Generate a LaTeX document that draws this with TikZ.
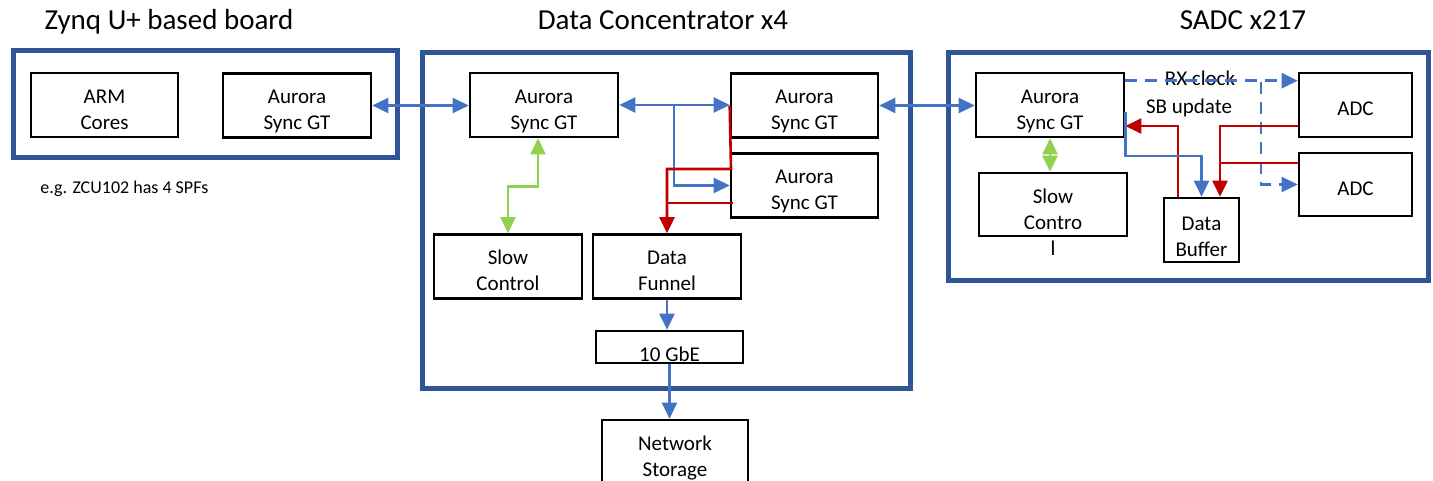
\documentclass[tikz,border=0pt]{standalone}
\usepackage{fontspec}
\setmainfont{Carlito}
\usetikzlibrary{arrows.meta, calc}

\definecolor{framecol}{HTML}{2F5597}
\definecolor{linkblue}{HTML}{4472C4}
\definecolor{linkred}{HTML}{C00000}
\definecolor{linkgreen}{HTML}{92D050}

\begin{document}
\begin{tikzpicture}[x=0.5pt, y=-0.5pt,
    font=\fontsize{10.5}{13}\selectfont,
    block/.style={draw, line width=1.3pt, align=center, inner sep=0pt,
      minimum width=74pt, minimum height=32pt, text height=24pt, text depth=0pt},
    oneline/.style={text height=10.8pt, text depth=0pt},
    emptybox/.style={text height=0pt, text depth=0pt},
    frame/.style={draw=framecol, line width=2.5pt},
    title/.style={anchor=base, font=\fontsize{14.5}{17}\selectfont},
    onehead/.style={-{Triangle[length=8pt, width=7.5pt]}},
    twohead/.style={{Triangle[length=8pt, width=7.5pt]}-{Triangle[length=8pt, width=7.5pt]}},
    blu/.style={draw=linkblue, line width=1.2pt},
    rd/.style={draw=linkred, line width=1.3pt},
    grn/.style={draw=linkgreen, line width=1.3pt},
    longdash/.style={dash pattern=on 6pt off 4pt}]
  \clip (0,0) rectangle (1433,481);
  % Titles
  \node[title] (ttlzynq) at (169,30) {Zynq U+ based board};
  \node[title] (ttldc) at (663,30) {Data Concentrator x4};
  \node[title] (ttlsadc) at (1243,30) {SADC x217};
  % Frames
  \draw[frame] (13,51) rectangle (397,157);
  \draw[frame] (422,53) rectangle (910,388);
  \draw[frame] (948,53) rectangle (1428,280);
  % Zynq board
  \node[block, minimum width=73.5pt] (arm) at (104.5,105) {ARM\\Cores};
  \node[block] (zaur) at (297,105.5) {Aurora\\Sync GT};
  \node[anchor=base west, inner sep=0pt, font=\fontsize{9}{11}\selectfont] (zcu) at (40,193) {e.g. ZCU102 has 4 SPFs};
  % Data concentrator
  \node[block] (dca) at (544,105) {Aurora\\Sync GT};
  \node[block, minimum width=73.5pt] (dcb) at (804.5,105.5) {Aurora\\Sync GT};
  \node[block, minimum width=73.5pt] (dcc) at (804.5,185.5) {Aurora\\Sync GT};
  \node[block] (dcsc) at (508,266.5) {Slow\\Control};
  \node[block] (funnel) at (667,266.5) {Data\\Funnel};
  \node[block, emptybox, minimum width=73.5pt, minimum height=16pt,
    label={[yshift=-3.5pt]center:10 GbE}] (gbe) at (669.5,347) {};
  \node[block, minimum width=73pt] (net) at (675,452) {Network\\Storage};
  % SADC
  \node[block] (saur) at (1050,105) {Aurora\\Sync GT};
  \node[block, emptybox, minimum height=31.5pt,
    label={[align=center, yshift=-8.75pt]center:{Slow\\Contro\\l}}] (ssc) at (1053,204.5) {};
  \node[block, minimum width=37.5pt, text height=26pt] (sbuf) at (1201.5,230) {Data\\Buffer};
  \node[block, oneline, minimum width=56.5pt] (adca) at (1355.5,105) {ADC};
  \node[block, oneline, minimum width=56.5pt, minimum height=31.5pt] (adcb) at (1355.5,184.5) {ADC};
  \node (rxlbl) at (1200,78) {RX clock};
  \node (sblbl) at (1189,108) {SB update};
  % Links between boards
  \draw[blu, twohead] (zaur.east) -- (zaur.east -| dca.west);
  \draw[blu, twohead] (dcb.east) -- (dcb.east -| saur.west);
  % Inside the concentrator
  \draw[blu, twohead] (dca.east) -- (dca.east -| dcb.west);
  \coordinate (dcsplit) at (674,105);
  \draw[blu, onehead] (dcsplit) |- (dcc.west);
  \coordinate (redjoin) at (731,169);
  \draw[rd, onehead] (dcb.west) -- (redjoin) -| (funnel.north);
  \coordinate (redc) at ($(dcc.west)+(3,17.5)$);
  \draw[rd] (redc) -- (redc -| funnel.north);
  \draw[grn, twohead] ([xshift=-3pt]dca.south) -- ++(0,48) -| (dcsc.north);
  \draw[blu, onehead] (funnel.south) -- (funnel.south |- gbe.north);
  \draw[blu, onehead] (gbe.south) -- (gbe.south |- net.north);
  % Inside the SADC
  \draw[grn, twohead] (saur.south) -- (saur.south |- ssc.north);
  \coordinate (clkstart) at ([yshift=-4.5pt]saur.north east);
  \draw[blu, longdash, onehead] (clkstart) -- (clkstart -| adca.west);
  \coordinate (clksplit) at (1261,82);
  \draw[blu, longdash, onehead] (clksplit) |- (adcb.west);
  \coordinate (sbturn) at (1178,126);
  \draw[rd, onehead] (sbuf.north -| sbturn) -- (sbturn) -- (sbturn -| saur.east);
  \draw[blu, onehead] ([yshift=-3.5pt]saur.east) -- ++(0,44) -| (sbuf.north);
  \draw[rd, onehead] ([yshift=-10.5pt]adca.west) -| ([xshift=9.25pt]sbuf.north);
  \draw[rd] ([yshift=10.75pt]adcb.west) -- ++(-79,0);
\end{tikzpicture}
\end{document}
